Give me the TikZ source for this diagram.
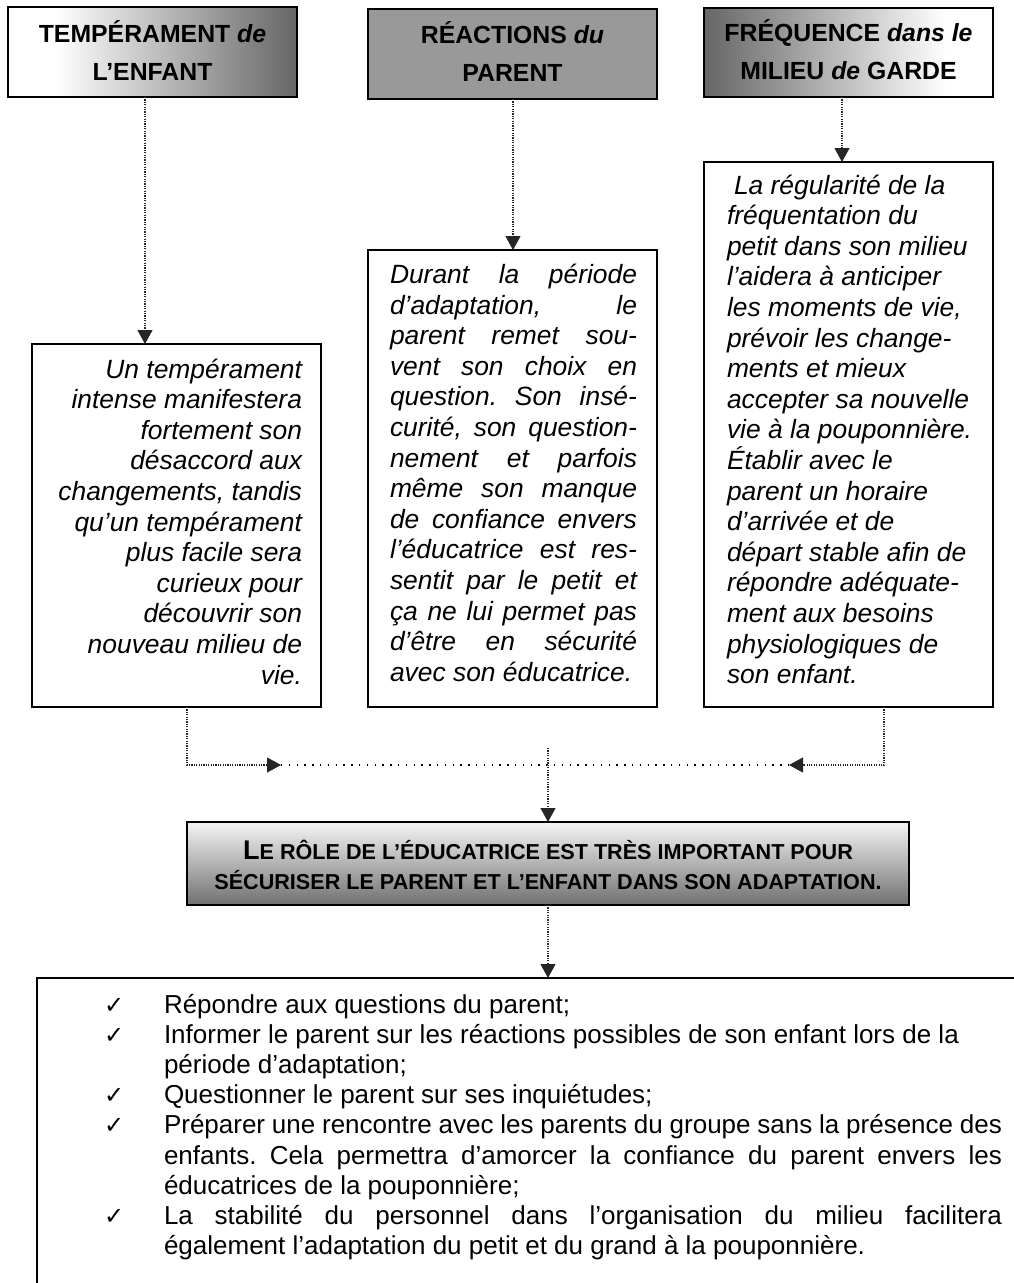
\documentclass[tikz,border=0pt]{standalone}
\usepackage{fontspec}
\setmainfont{Liberation Sans}
\newfontfamily\dejavu{DejaVu Sans}
\usetikzlibrary{arrows.meta}
\frenchspacing
\pgfdeclarehorizontalshading{whitedark}{100bp}{color(0bp)=(white); color(33bp)=(white); color(75bp)=(black!60); color(100bp)=(black!60)}
\pgfdeclarehorizontalshading{darkwhite}{100bp}{color(0bp)=(black!60); color(25bp)=(black!60); color(67bp)=(white); color(100bp)=(white)}
\pgfdeclareverticalshading{midshade}{100bp}{color(0bp)=(black!56); color(25bp)=(black!56); color(75bp)=(black!4); color(100bp)=(black!4)}
\newcommand\mysc[1]{{\fontsize{21.6}{25}\selectfont #1}}
\begin{document}
\begin{tikzpicture}[x=1pt,y=-1pt,
  every node/.style={inner sep=0pt, outer sep=0pt},
  headbox/.style={draw=black, line width=1.8pt, minimum width=289pt, minimum height=90pt},
  txtbox/.style={draw=black, line width=1.5pt, fill=white, minimum width=289pt},
  conn/.style={line width=1.1pt, black!85, dash pattern=on 1.1pt off 1.3pt},
  sparse/.style={line width=1.2pt, black, dash pattern=on 1.3pt off 6.5pt},
  arrowtip/.style={-{Triangle[length=14pt,width=15pt]}},
  hd/.style={font=\fontsize{24.8}{30}\selectfont\bfseries, anchor=base},
  bodyl/.style={font=\fontsize{26.4}{30}\selectfont\itshape},
  listl/.style={font=\fontsize{26}{30}\selectfont, anchor=base west},
  chk/.style={font=\dejavu\fontsize{24}{30}\selectfont, anchor=base west},
  midl/.style={font=\fontsize{27}{30}\selectfont\bfseries, anchor=base},
]
\clip (0,0) rectangle (1014,1283);
\fill[white] (0,0) rectangle (1014,1283);

% heading boxes
\node[headbox, shade, shading=whitedark] (h1) at (152.5,52) {};
\node[headbox, fill=black!40] (h2) at (512.5,54) {};
\node[headbox, shade, shading=darkwhite, minimum height=89pt] (h3) at (848.5,52.5) {};
\node[hd] (h1a) at (152.5,42) {TEMPÉRAMENT \textit{de}};
\node[hd] (h1b) at (152.5,80) {L’ENFANT};
\node[hd] (h2a) at (512.5,43) {RÉACTIONS \textit{du}};
\node[hd] (h2b) at (512.5,81) {PARENT};
\node[hd] (h3a) at (848.5,41) {FRÉQUENCE \textit{dans le}};
\node[hd] (h3b) at (848.5,79) {MILIEU \textit{de} GARDE};

% text boxes
\node[txtbox, minimum height=363pt] (t1) at (176.5,525.5) {};
\node[txtbox, minimum height=457pt] (t2) at (512.5,478.5) {};
\node[txtbox, minimum height=545pt] (t3) at (848.5,434.5) {};

\foreach \t [count=\i] in {{Un tempérament},{intense manifestera},{fortement son},{désaccord aux},{changements, tandis},{qu’un tempérament},{plus facile sera},{curieux pour},{découvrir son},{nouveau milieu de},{vie.}}
  \node[bodyl, anchor=base east] (l\i) at (302,{378+(\i-1)*30.6}) {\t};

\foreach \t [count=\i] in {{Durant la période},{d’adaptation, le},{parent remet sou-},{vent son choix en},{question. Son insé-},{curité, son question-},{nement et parfois},{même son manque},{de confiance envers},{l’éducatrice est res-},{sentit par le petit et},{ça ne lui permet pas},{d’être en sécurité}}
  \node[bodyl, anchor=base west] (m\i) at (390,{283.5+(\i-1)*30.6}) {\makebox[247pt][s]{\t}};
\node[bodyl, anchor=base west] (m14) at (390,{283.5+13*30.6}) {avec son éducatrice.};

\foreach \t [count=\i] in {{\hspace*{7pt}La régularité de la},{fréquentation du},{petit dans son milieu},{l’aidera à anticiper},{les moments de vie,},{prévoir les change-},{ments et mieux},{accepter sa nouvelle},{vie à la pouponnière.},{Établir avec le},{parent un horaire},{d’arrivée et de},{départ stable afin de},{répondre adéquate-},{ment aux besoins},{physiologiques de},{son enfant.}}
  \node[bodyl, anchor=base west] (r\i) at (727,{194+(\i-1)*30.6}) {\t};

% middle box
\node[draw=black, line width=1.8pt, shade, shading=midshade, minimum width=722pt, minimum height=83pt] (mid) at (548,863.5) {};
\node[midl] (mida) at (548,859) {L\mysc{E RÔLE DE L’ÉDUCATRICE EST TRÈS IMPORTANT POUR}};
\node[midl] (midb) at (548,889) {\mysc{SÉCURISER LE PARENT ET L’ENFANT DANS SON ADAPTATION.}};

% list box
\node[draw=black, line width=1.5pt, fill=white, minimum width=1003pt, minimum height=332pt] (list) at (538.5,1144) {};
\foreach \y [count=\i] in {0,1,3,4,7}
  \node[chk] (c\i) at (104,{1013+\y*30.2}) {✓};
\node[listl] (p1) at (164,1013) {Répondre aux questions du parent;};
\node[listl] (p2) at (164,{1013+1*30.2}) {Informer le parent sur les réactions possibles de son enfant lors de la};
\node[listl] (p3) at (164,{1013+2*30.2}) {période d’adaptation;};
\node[listl] (p4) at (164,{1013+3*30.2}) {Questionner le parent sur ses inquiétudes;};
\node[listl] (p5) at (164,{1013+4*30.2}) {\makebox[838pt][s]{Préparer une rencontre avec les parents du groupe sans la présence des}};
\node[listl] (p6) at (164,{1013+5*30.2}) {\makebox[838pt][s]{enfants. Cela permettra d’amorcer la confiance du parent envers les}};
\node[listl] (p7) at (164,{1013+6*30.2}) {éducatrices de la pouponnière;};
\node[listl] (p8) at (164,{1013+7*30.2}) {\makebox[838pt][s]{La stabilité du personnel dans l’organisation du milieu facilitera}};
\node[listl] (p9) at (164,{1013+8*30.2}) {également l’adaptation du petit et du grand à la pouponnière.};

% connectors
\coordinate (x1) at (145,0);
\coordinate (x2) at (513,0);
\coordinate (x3) at (842,0);
\draw[conn, arrowtip] (h1.south -| x1) -- (t1.north -| x1);
\draw[conn, arrowtip] (h2.south -| x2) -- (t2.north -| x2);
\draw[conn, arrowtip] (h3.south -| x3) -- (t3.north -| x3);

\coordinate (xl) at (187,0);
\coordinate (xr) at (884,0);
\coordinate (jl) at (281,765);
\coordinate (jr) at (789,765);
\coordinate (mt) at (548,748);
\draw[conn, arrowtip] (t1.south -| xl) |- (jl);
\draw[conn, arrowtip] (t3.south -| xr) |- (jr);
\draw[sparse] (jl) -- (jr);
\draw[conn, arrowtip] (mt) -- (mid.north);
\draw[conn, arrowtip] (mid.south) -- (mid.south |- list.north);
\end{tikzpicture}
\end{document}
